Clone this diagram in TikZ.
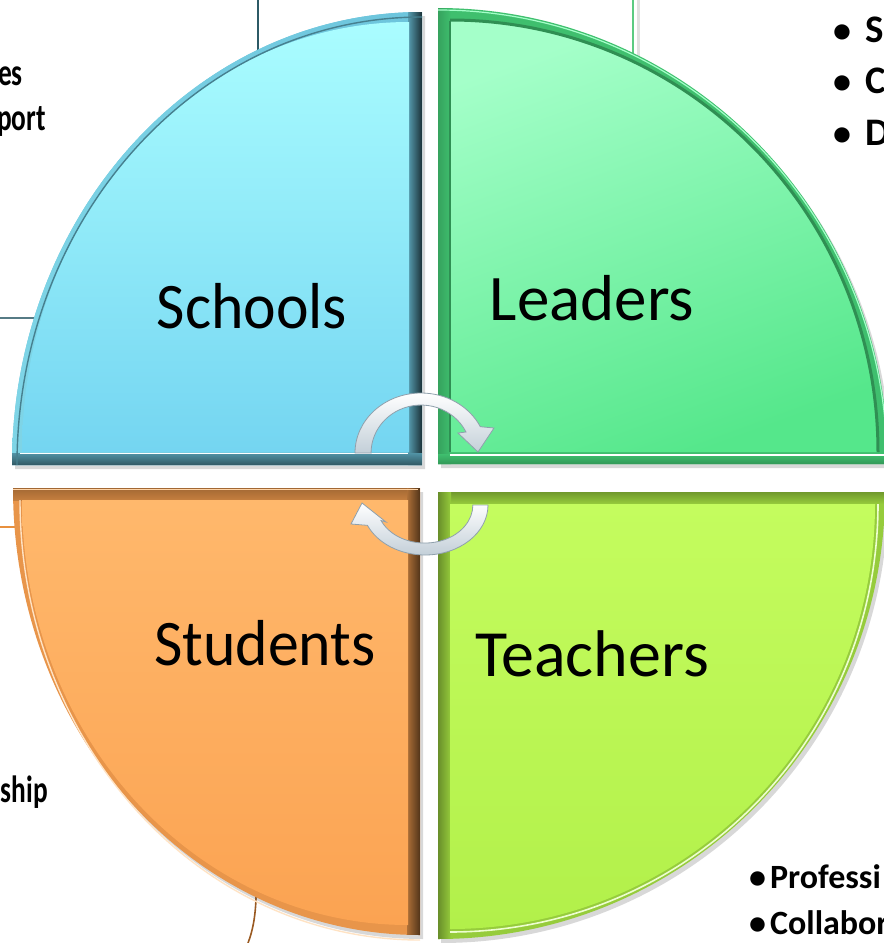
\documentclass[tikz,border=0pt]{standalone}
\usepackage{fontspec}
\setmainfont{Carlito}
\usetikzlibrary{shadows}
\definecolor{schooltop}{HTML}{AAFDFF}
\definecolor{schoolbot}{HTML}{74D5F1}
\definecolor{schoolrim}{HTML}{6CC4DC}
\definecolor{leadtop}{HTML}{A4FFC9}
\definecolor{leadbot}{HTML}{55E78B}
\definecolor{leadrim}{HTML}{3FBF6E}
\definecolor{studtop}{HTML}{FFB86C}
\definecolor{studbot}{HTML}{FBA352}
\definecolor{studrim}{HTML}{E8954A}
\definecolor{teachtop}{HTML}{C4FC5E}
\definecolor{teachbot}{HTML}{B2F04A}
\definecolor{teachrim}{HTML}{96CC3C}
\definecolor{arrowgray}{HTML}{C3CFD8}
\definecolor{arrowedge}{HTML}{8FA0AC}
\definecolor{linkteal}{HTML}{2C5A66}
\definecolor{linkgreen}{HTML}{5CCB82}
\definecolor{linkorange}{HTML}{E8903E}
\definecolor{linkbrown}{HTML}{9A5A22}
\begin{document}
\begin{tikzpicture}[x=1pt,y=-1pt,
  quadlabel/.style={font=\fontsize{65}{70}\selectfont, text=black, inner sep=0pt},
  leftedge/.style={font=\bfseries\fontsize{38}{40}\selectfont, text=black, inner sep=0pt, xscale=0.72},
  edgetext/.style={font=\bfseries\fontsize{39}{40}\selectfont, text=black, inner sep=0pt},
  smalledge/.style={font=\bfseries\fontsize{34}{36}\selectfont, text=black, inner sep=0pt},
  cyclearrow/.style={top color=white, bottom color=arrowgray, draw=arrowedge, line width=0.8pt},
  qshadow/.style={drop shadow={shadow xshift=3pt,shadow yshift=-4pt,opacity=0.25,fill=black!60}}
]
\useasboundingbox (0,0) rectangle (884,943);
\clip (0,0) rectangle (884,943);
\fill[white] (0,0) rectangle (884,943);

% background frame lines
\draw[linkteal, line width=1.6pt] (258,0) -- (258,70);
\draw[linkteal!80, line width=1.2pt] (0,318) -- (60,318);
\draw[black!12, line width=3pt] (638,0) -- (638,60);
\draw[linkgreen, line width=1.4pt] (633,0) -- (633,60);
\draw[linkorange, line width=1.2pt] (0,527) -- (40,527);
\draw[linkbrown, line width=1.6pt] (256,880) .. controls (257,912) and (253,930) .. (248,943);

% ---------- Schools (top left)
\path[qshadow, fill=schoolrim] (422,465) -- (12,465) arc[start angle=180,end angle=270,x radius=410,y radius=453] -- cycle;
\begin{scope}
\clip (422,465) -- (12,465) arc[start angle=180,end angle=270,x radius=410,y radius=453] -- cycle;
\shade[left color=schoolrim!70!schooltop, right color=schoolrim] (0,0) rectangle (422,465);
\shade[left color=schoolrim!80!black, right color=schoolrim!25!black] (408,0) rectangle (422,465);
\shade[top color=schoolrim!75!black, bottom color=schoolrim!45!black] (0,453) rectangle (422,465);
\end{scope}
\shade[top color=schooltop, bottom color=schoolbot] (409,452) -- (22,452) arc[start angle=180,end angle=270,x radius=387,y radius=430] -- cycle;
\draw[white, line width=1.6pt] (20,453.5) -- (408,453.5);
\draw[black!35!schoolrim, line width=1.4pt] (17,465) arc[start angle=180,end angle=270,x radius=405,y radius=448];
\node[quadlabel, anchor=base, xscale=0.95] (schools) at (252,328) {Schools};

% ---------- Leaders (top right)
\path[qshadow, fill=leadrim] (438,464) -- (438,8) arc[start angle=270,end angle=360,x radius=450,y radius=456] -- cycle;
\begin{scope}
\clip (438,464) -- (438,8) arc[start angle=270,end angle=360,x radius=450,y radius=456] -- cycle;
\shade[left color=leadrim!85!black, right color=leadrim] (438,0) rectangle (451,464);
\shade[top color=leadrim, bottom color=leadrim!80!black] (438,454) rectangle (900,464);
\end{scope}
\shade[top color=leadtop, bottom color=leadbot, shading angle=20] (450,452) -- (450,20) arc[start angle=270,end angle=360,x radius=428,y radius=432] -- cycle;
\draw[leadrim!75!black, line width=3pt] (450,20) arc[start angle=270,end angle=360,x radius=428,y radius=432];
\draw[leadrim!75!black, line width=2.5pt] (450,21) -- (450,452);
\draw[white, line width=1.6pt] (450,455) -- (884,455);
\draw[leadtop, line width=1.2pt] (438,10) arc[start angle=270,end angle=360,x radius=449,y radius=454];
\node[quadlabel, anchor=base] (leaders) at (592,320) {Leaders};

% ---------- Students (bottom left)
\path[qshadow, fill=studrim] (420,488) -- (13,488) arc[start angle=180,end angle=90,x radius=407,y radius=447] -- cycle;
\begin{scope}
\clip (420,488) -- (13,488) arc[start angle=180,end angle=90,x radius=407,y radius=447] -- cycle;
\shade[top color=studrim!70!black, bottom color=studrim!85!black] (0,488) rectangle (420,500);
\shade[left color=studrim!75!black, right color=studrim!35!black] (407,488) rectangle (420,943);
\end{scope}
\shade[top color=studtop, bottom color=studbot] (408,500) -- (22,500) arc[start angle=180,end angle=90,x radius=386,y radius=425] -- cycle;
\draw[studtop!60!white, line width=1.6pt] (13,489.5) -- (418,489.5);
\draw[studtop!40!white, line width=1.4pt] (20,500) arc[start angle=180,end angle=90,x radius=400,y radius=440];
\node[quadlabel, anchor=base, xscale=0.95] (students) at (265,665) {Students};

% ---------- Teachers (bottom right)
\path[qshadow, fill=teachrim] (438,492) -- (885,492) arc[start angle=0,end angle=90,x radius=447,y radius=447] -- cycle;
\begin{scope}
\clip (438,492) -- (885,492) arc[start angle=0,end angle=90,x radius=447,y radius=447] -- cycle;
\shade[top color=teachrim!75!black, bottom color=teachrim] (438,492) rectangle (900,504);
\shade[left color=teachrim!70!black, right color=teachrim] (438,492) rectangle (451,943);
\end{scope}
\shade[top color=teachtop, bottom color=teachbot] (450,504) -- (875,504) arc[start angle=0,end angle=90,x radius=425,y radius=425] -- cycle;
\draw[teachtop!30!white, line width=1.6pt] (878,504) arc[start angle=0,end angle=90,x radius=428,y radius=428];
\node[quadlabel, anchor=base, font=\fontsize{66}{70}\selectfont] (teachers) at (592,676) {Teachers};

% ---------- cycle arrows
\path[cyclearrow] (371,453) -- (355,453) arc[start angle=180,end angle=334,x radius=66,y radius=60]
  -- (494,428) -- (478,452) -- (458,433) -- (466,432)
  arc[start angle=334,end angle=180,x radius=50,y radius=48] -- cycle;
\path[cyclearrow] (473,505) -- (488,505) arc[start angle=0,end angle=156,x radius=63,y radius=50]
  -- (351,524) -- (362,503) -- (386,522) -- (381,520.5)
  arc[start angle=156,end angle=0,x radius=48,y radius=38] -- cycle;

% ---------- cropped texts at the edges
\node[leftedge, anchor=base east] (t1) at (23,85) {es};
\node[leftedge, anchor=base east] (t2) at (46,130) {port};
\node[leftedge, anchor=base east] (t3) at (48,802) {ship};
\node[edgetext, anchor=base west] (r1) at (833,42) {{\fontsize{36}{40}\selectfont•}\hspace{14pt}S};
\node[edgetext, anchor=base west] (r2) at (833,93) {{\fontsize{36}{40}\selectfont•}\hspace{14pt}C};
\node[edgetext, anchor=base west] (r3) at (833,145) {{\fontsize{36}{40}\selectfont•}\hspace{14pt}D};
\node[smalledge, anchor=base west] (b1) at (749,888) {•\hspace{4pt}Professi};
\node[smalledge, anchor=base west] (b2) at (749,934) {•\hspace{4pt}Collabor};
\end{tikzpicture}
\end{document}
